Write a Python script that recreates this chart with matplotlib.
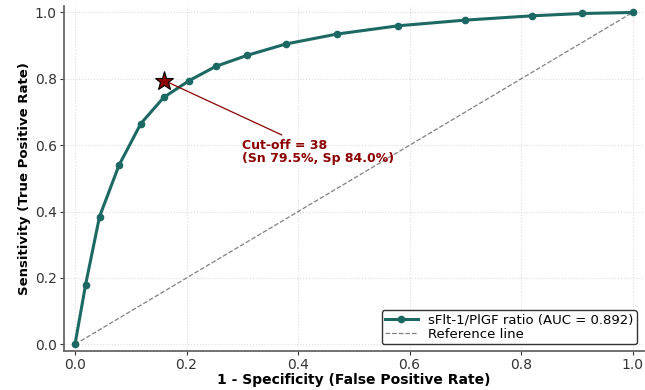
import matplotlib
matplotlib.use("Agg")
import matplotlib.pyplot as plt

# ROC points
fpr = [0.0, 0.019, 0.044, 0.079, 0.118, 0.159, 0.205, 0.253, 0.309, 0.378,
       0.47, 0.58, 0.70, 0.82, 0.91, 1.0]
tpr = [0.0, 0.18, 0.385, 0.54, 0.665, 0.744, 0.795, 0.838, 0.871, 0.905,
       0.935, 0.96, 0.977, 0.99, 0.997, 1.0]
auc_value = 0.892
cutoff = 38
cut_sn = 0.795
cut_sp = 0.840
ticks = [0.0, 0.2, 0.4, 0.6, 0.8, 1.0]

teal = "#1c6862"
red = "#8b0000"

fig = plt.figure(figsize=(6.45, 3.9), dpi=100)
ax = fig.add_axes([0.099, 0.1, 0.899, 0.885])

ax.plot(fpr, tpr, color=teal, lw=2.2, marker="o", markersize=4.5,
        label=f"sFlt-1/PlGF ratio (AUC = {auc_value:.3f})", zorder=3)
ax.plot([0, 1], [0, 1], ls="--", color="gray", lw=0.9, label="Reference line", zorder=2)

# optimal cut-off
ax.plot(1 - cut_sp, cut_sn, marker="*", markersize=14, color=red,
        markeredgecolor="black", markeredgewidth=0.8, zorder=5)
ax.annotate(f"Cut-off = {cutoff}\n(Sn {cut_sn*100:.1f}%, Sp {cut_sp*100:.1f}%)",
            xy=(1 - cut_sp, cut_sn), xytext=(0.30, 0.58),
            ha="left", va="center", fontsize=9, fontweight="bold", color=red,
            linespacing=1.0,
            arrowprops=dict(arrowstyle="-", color=red, lw=0.9))

ax.set_xlim(-0.02, 1.02)
ax.set_ylim(-0.02, 1.02)
ax.set_xticks(ticks)
ax.set_yticks(ticks)
ax.tick_params(labelsize=10, colors="#333333", length=3, pad=2)
ax.grid(True, ls=":", color="#dddddd", lw=0.8)

for s in ["top", "right"]:
    ax.spines[s].set_visible(False)
for s in ["left", "bottom"]:
    ax.spines[s].set_color("#666666")
    ax.spines[s].set_linewidth(1.3)

ax.set_xlabel("1 - Specificity (False Positive Rate)", fontsize=10, fontweight="bold", labelpad=1)
ax.set_ylabel("Sensitivity (True Positive Rate)", fontsize=9.5, fontweight="bold", labelpad=3)

leg = ax.legend(loc="lower right", fontsize=9.5, frameon=True, framealpha=1,
                edgecolor="#333333", borderpad=0.25, labelspacing=0.1, handlelength=2.5)
leg.get_frame().set_linewidth(1.0)

fig.savefig("out.png", dpi=100)
